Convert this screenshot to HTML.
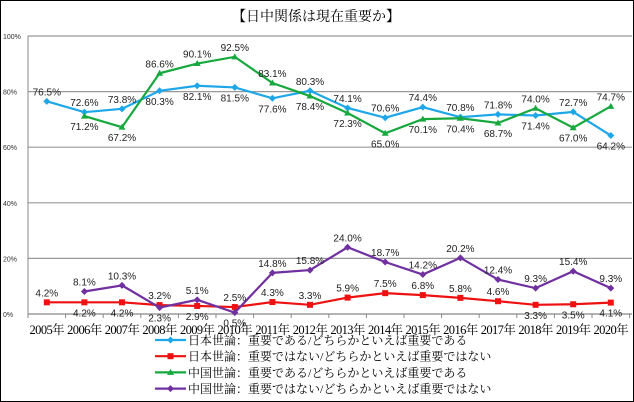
<!DOCTYPE html>
<html><head><meta charset="utf-8"><style>
body{margin:0;background:#fff}
svg{display:block;font-family:"Liberation Sans","Noto Sans CJK JP",sans-serif}
</style></head><body>
<svg width="634" height="402" viewBox="0 0 634 402">
<rect x="0.5" y="0.5" width="633" height="401" fill="#fff" stroke="#000"/>
<text x="316" y="21" text-anchor="middle" font-size="14" font-family="Liberation Serif,'Noto Serif CJK SC',serif">【日中関係は現在重要か】</text>
<g id="grid"></g><g id="series"></g><g id="labels"></g><g id="legend"></g>
</svg>
<script>
const years=["2005年","2006年","2007年","2008年","2009年","2010年","2011年","2012年","2013年","2014年","2015年","2016年","2017年","2018年","2019年","2020年"];
const yTicks=[0,20,40,60,80,100];
const jpYes=[76.5,72.6,73.8,80.3,82.1,81.5,77.6,80.3,74.1,70.6,74.4,70.8,71.8,71.4,72.7,64.2];
const jpNo=[4.2,4.2,4.2,3.2,2.9,2.5,4.3,3.3,5.9,7.5,6.8,5.8,4.6,3.3,3.5,4.1];
const cnYes=[null,71.2,67.2,86.6,90.1,92.5,83.1,78.4,72.3,65.0,70.1,70.4,68.7,74.0,67.0,74.7];
const cnNo=[null,8.1,10.3,2.3,5.1,0.5,14.8,15.8,24.0,18.7,14.2,20.2,12.4,9.3,15.4,9.3];
const jpYesPos=[-1,-1,-1,1,1,1,1,-1,-1,-1,-1,-1,-1,1,-1,1];
const jpNoPos=[-1,1,1,-1,1,-1,-1,-1,-1,-1,-1,-1,-1,1,1,1];
const cnYesPos=[0,1,1,-1,-1,-1,-1,1,1,1,1,1,1,-1,1,-1];
const cnNoPos=[0,-1,-1,1,-1,1,-1,-1,-1,-1,-1,-1,-1,-1,-1,-1];
const series=[
 {name:"jp-yes",vals:jpYes,pos:jpYesPos,color:"#1EA7E8",mk:"d",leg:"日本世論：重要である/どちらかといえば重要である"},
 {name:"jp-no",vals:jpNo,pos:jpNoPos,color:"#EE1111",mk:"s",leg:"日本世論：重要ではない/どちらかといえば重要ではない"},
 {name:"cn-yes",vals:cnYes,pos:cnYesPos,color:"#17A83E",mk:"t",leg:"中国世論：重要である/どちらかといえば重要である"},
 {name:"cn-no",vals:cnNo,pos:cnNoPos,color:"#7030A0",mk:"d",leg:"中国世論：重要ではない/どちらかといえば重要ではない"}];
const NS="http://www.w3.org/2000/svg";
const X0=28,STEP=37.6,Y0=314,Y100=36;
const xs=i=>X0+STEP/2+i*STEP;
const ys=v=>Y0-(v/100)*(Y0-Y100);
function mk(t,a,p){const e=document.createElementNS(NS,t);for(const k in a)e.setAttribute(k,a[k]);p.appendChild(e);return e;}
const grid=document.getElementById('grid');
yTicks.forEach(t=>{
 const l=mk('line',{x1:X0,x2:632,y1:ys(t),y2:ys(t),stroke:t===0?'#888':'#999','stroke-width':1.2},grid);
 
 
 const tx=mk('text',{x:3,y:ys(t)+3,'font-size':7,fill:'#333'},grid);tx.textContent=t+'%';
 
 
});
const ax=mk('line',{x1:X0,x2:X0,y1:Y100,y2:Y0,stroke:'#888'},grid);


years.forEach((y,i)=>{
 mk('line',{x1:X0+i*STEP,x2:X0+i*STEP,y1:Y0,y2:Y0+4,stroke:'#888'},grid);
 const t=mk('text',{x:xs(i),y:Y0+20,'font-size':12.5,'text-anchor':'middle','font-family':"Liberation Serif,'Noto Serif CJK SC',serif",'letter-spacing':'-0.6'},grid);
 t.textContent=y;
 
 
});
mk('line',{x1:X0+16*STEP,x2:X0+16*STEP,y1:Y0,y2:Y0+4,stroke:'#888'},grid);
function marker(p,type,x,y,c){
 if(type==='s')return mk('rect',{x:x-3,y:y-3,width:6,height:6,fill:c},p);
 if(type==='t')return mk('polygon',{points:`${x},${y-3.5} ${x-3.5},${y+2.5} ${x+3.5},${y+2.5}`,fill:c},p);
 return mk('polygon',{points:`${x},${y-3.5} ${x+3.5},${y} ${x},${y+3.5} ${x-3.5},${y}`,fill:c},p);
}
const sg=document.getElementById('series'),lg=document.getElementById('labels');
series.forEach(s=>{
 const pts=[];s.vals.forEach((v,i)=>{if(v!==null)pts.push([xs(i),ys(v)]);});
 const pl=mk('polyline',{points:pts.map(p=>p.join(',')).join(' '),fill:'none',stroke:s.color,'stroke-width':2.2},sg);
 
 
 s.vals.forEach((v,i)=>{if(v===null)return;
  const m=marker(sg,s.mk,xs(i),ys(v),s.color);
  
  
  const t=mk('text',{x:xs(i),y:ys(v)+(s.pos[i]<0?-6:14),'font-size':10,'text-anchor':'middle',fill:'#222'},lg);
  t.textContent=v.toFixed(1)+'%';
  
  
 });
});
const leg=document.getElementById('legend');
series.forEach((s,k)=>{
 const y=340+k*16.2;
 const g=mk('g',{},leg);
 
 
 mk('line',{x1:155,x2:186,y1:y,y2:y,stroke:s.color,'stroke-width':2.2},g);
 marker(g,s.mk,170.5,y,s.color);
 const t=mk('text',{x:188,y:y+4.5,'font-size':12,'font-family':"Liberation Serif,'Noto Serif CJK SC',serif"},g);t.textContent=s.leg;
});
</script>
</body></html>
